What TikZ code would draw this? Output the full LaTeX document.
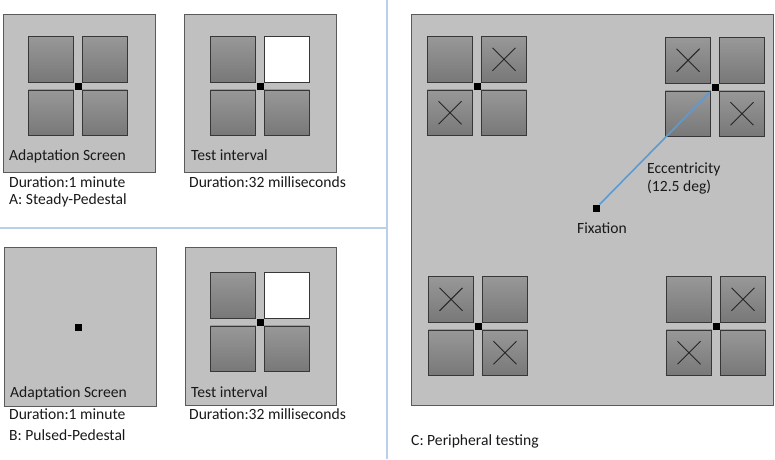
\documentclass[tikz,border=0pt]{standalone}
\usepackage{fontspec}
\setmainfont{Carlito}
\definecolor{panelfill}{RGB}{192,192,192}
\definecolor{panelborder}{RGB}{90,90,90}
\definecolor{sqtop}{RGB}{152,152,152}
\definecolor{sqbot}{RGB}{120,120,120}
\definecolor{sqborder}{RGB}{55,55,55}
\definecolor{divider}{RGB}{185,208,232}
\definecolor{eccblue}{RGB}{91,155,213}
\tikzset{
  panel/.style={draw=panelborder, line width=0.9pt, fill=panelfill, anchor=north west, inner sep=0pt},
  sqbase/.style={draw=sqborder, line width=0.9pt, minimum size=45.5pt, inner sep=0pt},
  gq/.style={sqbase, top color=sqtop, bottom color=sqbot},
  wq/.style={sqbase, fill=white},
  xq/.style={gq, path picture={
     \draw[line width=0.9pt, black!85]
       ([shift={(-11.5pt,-11.5pt)}]path picture bounding box.center) --
       ([shift={(11.5pt,11.5pt)}]path picture bounding box.center)
       ([shift={(-11.5pt,11.5pt)}]path picture bounding box.center) --
       ([shift={(11.5pt,-11.5pt)}]path picture bounding box.center);}},
  dot/.style={fill=black, minimum size=7pt, inner sep=0pt},
  lbl/.style={anchor=base west, inner sep=0pt, font=\fontsize{15.6}{18}\selectfont, text=black!90},
  divline/.style={draw=divider, line width=1.5pt},
  ecc/.style={draw=eccblue, line width=1.6pt}
}
\newcommand\quadcluster[7]{%
  \node[#4, anchor=south east] (#1-tl) at (#2-3.75,#3-3.5) {};
  \node[#5, anchor=south west] (#1-tr) at (#2+3.75,#3-3.5) {};
  \node[#6, anchor=north east] (#1-bl) at (#2-3.75,#3+3.5) {};
  \node[#7, anchor=north west] (#1-br) at (#2+3.75,#3+3.5) {};
  \node[dot] (#1-c) at (#2,#3) {};
}
\begin{document}
\begin{tikzpicture}[x=1pt, y=-1pt]
\useasboundingbox (0,0) rectangle (775,459);
% dividers
\coordinate (vtop) at (387,0);
\coordinate (vbot) at (387,459);
\coordinate (hl) at (0,228);
\coordinate (hr) at (387,228);
\draw[divline] (vtop) -- (vbot);
\draw[divline] (hl) -- (hr);
% Panel A
\node[panel, minimum width=152pt, minimum height=158pt] (pA1) at (3,14) {};
\quadcluster{cA1}{78}{86}{gq}{gq}{gq}{gq}
\node[lbl] (tA1) at (9,160) {Adaptation Screen};
\node[lbl] (dA1) at (9,187) {Duration:1 minute};
\node[lbl] (nA) at (9,204) {A: Steady-Pedestal};
\node[panel, minimum width=152pt, minimum height=158pt] (pA2) at (184,14) {};
\quadcluster{cA2}{260}{86}{gq}{wq}{gq}{gq}
\node[lbl] (tA2) at (191,160) {Test interval};
\node[lbl] (dA2) at (189,187) {Duration:32 milliseconds};
% Panel B
\node[panel, minimum width=152pt, minimum height=159pt] (pB1) at (4,247) {};
\node[dot] (fB1) at (78,327) {};
\node[lbl] (tB1) at (10,397) {Adaptation Screen};
\node[lbl] (dB1) at (9,419) {Duration:1 minute};
\node[lbl] (nB) at (9,440) {B: Pulsed-Pedestal};
\node[panel, minimum width=151pt, minimum height=158pt] (pB2) at (185,247) {};
\quadcluster{cB2}{260}{322}{gq}{wq}{gq}{gq}
\node[lbl] (tB2) at (191,397) {Test interval};
\node[lbl] (dB2) at (189,419) {Duration:32 milliseconds};
% Panel C
\node[panel, minimum width=362pt, minimum height=391pt] (pC) at (411,14) {};
\quadcluster{cC1}{477}{86}{gq}{xq}{xq}{gq}
\quadcluster{cC2}{715}{87}{xq}{gq}{gq}{xq}
\quadcluster{cC3}{478}{326}{xq}{gq}{gq}{xq}
\quadcluster{cC4}{716}{326}{gq}{xq}{xq}{gq}
\node[dot] (fix) at (596,208) {};
\draw[ecc, shorten >=2pt] (fix.north east) -- (cC2-c.south west);
\node[lbl] (fixl) at (577,233) {Fixation};
\node[lbl] (ecl1) at (647,173) {Eccentricity};
\node[lbl] (ecl2) at (647,191) {(12.5 deg)};
\node[lbl] (nC) at (411,445) {C: Peripheral testing};
\end{tikzpicture}
\end{document}
